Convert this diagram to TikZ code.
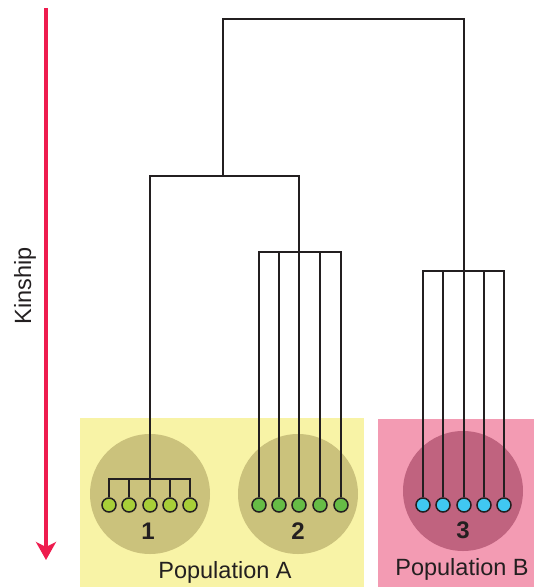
\documentclass[tikz,border=0pt]{standalone}
\usepackage{fontspec}
\setmainfont{Liberation Sans}
\usetikzlibrary{arrows.meta}
\definecolor{popAbg}{HTML}{F8F3A6}
\definecolor{popAgrp}{HTML}{CBC27C}
\definecolor{popBbg}{HTML}{F39BB3}
\definecolor{popBgrp}{HTML}{C0637F}
\definecolor{leafone}{HTML}{A8CF38}
\definecolor{leaftwo}{HTML}{66BC46}
\definecolor{leafthree}{HTML}{40C8F1}
\definecolor{kinred}{HTML}{EE1C4E}
\definecolor{ink}{HTML}{231F20}
\tikzset{
  link/.style={draw=ink, line width=2pt},
  leaf/.style={circle, draw=ink, line width=1.5pt, minimum size=14pt, inner sep=0pt},
  grpnum/.style={font=\fontsize{24}{24}\selectfont\bfseries, text=ink},
  poplabel/.style={font=\fontsize{23.5}{24}\selectfont, text=ink, anchor=base},
}
\begin{document}
\begin{tikzpicture}[x=1pt,y=-1pt]
\useasboundingbox (0,0) rectangle (534,587);
% backgrounds
\fill[popAbg] (80,418) rectangle (364,587);
\fill[popBbg] (378,419) rectangle (534,587);
\fill[popAgrp] (150,494) circle (60pt);
\fill[popAgrp] (298,494) circle (60pt);
\fill[popBgrp] (463,491) circle (60pt);
% leaves
\foreach \i/\x in {1/109,2/129,3/150,4/170,5/190}
  \node[leaf, fill=leafone] (a\i) at (\x,505) {};
\foreach \i/\x in {1/259,2/279,3/299,4/320,5/341}
  \node[leaf, fill=leaftwo] (b\i) at (\x,505) {};
\foreach \i/\x in {1/423,2/443,3/464,4/484,5/504}
  \node[leaf, fill=leafthree] (c\i) at (\x,505) {};
% junctions
\coordinate (jA) at (150,479);
\coordinate (jB) at (299,252);
\coordinate (jC) at (464,271);
\coordinate (nA) at (223,176);
\coordinate (root) at (223,19);
% cluster 1
\draw[link] (a1.north) |- (a5.north |- jA) -- (a5.north);
\foreach \i in {2,3,4} \draw[link] (a\i.north) -- (a\i.north |- jA);
% cluster 2
\draw[link] (b1.north) |- (b5.north |- jB) -- (b5.north);
\foreach \i in {2,3,4} \draw[link] (b\i.north) -- (b\i.north |- jB);
% cluster 3
\draw[link] (c1.north) |- (c5.north |- jC) -- (c5.north);
\foreach \i in {2,3,4} \draw[link] (c\i.north) -- (c\i.north |- jC);
% upper tree
\draw[link] (jA) |- (nA) -| (jB);
\draw[link] (nA) |- (root) -| (jC);
% labels
\node[grpnum] (n1) at (148,531) {1};
\node[grpnum] (n2) at (298,531) {2};
\node[grpnum] (n3) at (463,530) {3};
\node[poplabel] (pA) at (225,578) {Population A};
\node[poplabel] (pB) at (462,575) {Population B};
% kinship arrow
\coordinate (kTop) at (46,8);
\coordinate (kEnd) at (46,560);
\draw[kinred, line width=4pt, -{Stealth[length=18pt, width=20pt, inset=5pt]}] (kTop) -- (kEnd);
\node[poplabel, rotate=90] (kin) at (31,286) {Kinship};
\end{tikzpicture}
\end{document}
